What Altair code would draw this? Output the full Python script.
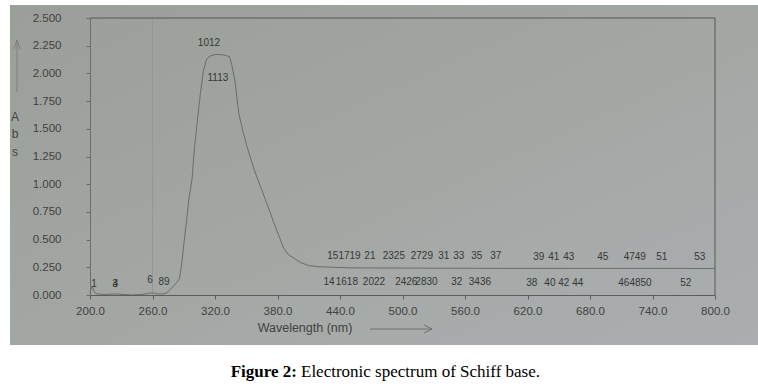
import altair as alt
import pandas as pd

# Spectrum trace (wavelength nm, absorbance)
wl = [200, 202, 204, 206, 215, 224, 240, 250, 256, 260, 265, 270, 274, 277, 280, 283, 286,
      288, 290, 293, 295, 298, 300, 303, 306, 309, 312, 316, 320, 326, 331, 334, 336, 339,
      343, 347, 351, 358, 368, 377, 386, 390, 396, 403, 410, 420, 434, 450, 500, 600,
      700, 800]
absb = [0.02, 0.08, 0.03, 0.01, 0.005, 0.01, 0.0, 0.005, 0.015, 0.02, 0.01, 0.01, 0.02, 0.05,
        0.08, 0.11, 0.15, 0.28, 0.45, 0.70, 0.87, 1.05, 1.30, 1.57, 1.82, 2.03, 2.13, 2.16,
        2.17, 2.17, 2.16, 2.15, 2.08, 1.94, 1.63, 1.47, 1.33, 1.12, 0.87, 0.64, 0.42, 0.37,
        0.33, 0.29, 0.265, 0.255, 0.25, 0.245, 0.243, 0.24, 0.24, 0.24]

# Peak-pick labels
pk_text = ["1012", "1113", "1", "3", "4", "6", "89",
           "151719", "21", "2325", "2729", "31", "33", "35", "37", "39", "41", "43", "45",
           "4749", "51", "53",
           "14", "1618", "2022", "2426", "2830", "32", "3436", "38", "40", "42", "44", "46",
           "4850", "52"]
pk_x = [314.2, 322.8, 203.8, 224.0, 224.6, 257.6, 271.0,
        443.8, 468.7, 491.7, 518.6, 539.7, 554.1, 571.4, 589.6, 630.9, 645.3, 659.7, 692.3,
        723.0, 748.9, 785.4,
        429.4, 446.6, 472.6, 503.6, 523.0, 552.2, 574.3, 624.2, 641.5, 654.9, 668.3, 712.5,
        728.5, 772.0]
pk_y = [2.27, 1.96, 0.10, 0.10, 0.10, 0.136, 0.118,
        0.355, 0.355, 0.355, 0.355, 0.355, 0.355, 0.355, 0.355, 0.345, 0.345, 0.345, 0.345,
        0.345, 0.345, 0.345,
        0.12, 0.12, 0.12, 0.12, 0.12, 0.12, 0.12, 0.105, 0.105, 0.105, 0.105, 0.105, 0.105,
        0.105]

x_ticks = [200, 260, 320, 380, 440, 500, 560, 620, 680, 740, 800]
y_ticks = [0, 0.25, 0.5, 0.75, 1.0, 1.25, 1.5, 1.75, 2.0, 2.25, 2.5]

spec = pd.DataFrame({"wl": wl, "abs": absb})
peaks = pd.DataFrame({"t": pk_text, "wl": pk_x, "abs": pk_y})
one = pd.DataFrame({"d": [0]})
grid = pd.DataFrame({"wl": [260]})

W, H = 625, 277
xs = alt.Scale(domain=[200, 800], nice=False)
ys = alt.Scale(domain=[0, 2.5], nice=False)

bg = alt.Chart(one).mark_rect(
    color=alt.LinearGradient(
        gradient="linear", x1=0, y1=0, x2=1, y2=1,
        stops=[alt.GradientStop(color="#9b9f99", offset=0),
               alt.GradientStop(color="#a3a7a3", offset=0.5),
               alt.GradientStop(color="#aaaeb1", offset=1)])
).encode(x=alt.value(-80), x2=alt.value(668), y=alt.value(-13), y2=alt.value(327))

x_axis = alt.Axis(values=x_ticks, format=".1f", title=None, grid=False,
                  labelFontSize=11.5, labelColor="#3f423f", labelPadding=6,
                  labelOverlap=False, labelFlush=False,
                  tickColor="#5a5d5a", tickSize=4, domainColor="#5a5d5a",
                  labelFont="Liberation Sans", zindex=1)
y_axis = alt.Axis(values=y_ticks, format=".3f", title=None, grid=False,
                  labelFontSize=11.5, labelColor="#3f423f", labelPadding=25,
                  labelOverlap=False, labelFlush=False,
                  tickColor="#6a6d6a", tickSize=4, domainColor="#6a6d6a",
                  labelFont="Liberation Sans", zindex=1)

gline = alt.Chart(grid).mark_rule(color="#949893", strokeWidth=1).encode(
    x=alt.X("wl:Q", scale=xs, axis=x_axis))

line = alt.Chart(spec).mark_line(color="#6a6d6a", strokeWidth=1).encode(
    x=alt.X("wl:Q", scale=xs, axis=x_axis),
    y=alt.Y("abs:Q", scale=ys, axis=y_axis))

labels = alt.Chart(peaks).mark_text(fontSize=10, color="#353835", font="Liberation Sans",
                                    baseline="middle").encode(
    x=alt.X("wl:Q", scale=xs, axis=x_axis), y=alt.Y("abs:Q", scale=ys, axis=y_axis),
    text="t:N")

def txt(s, x, y, size=12, color="#3f423f", font="Liberation Sans", weight="normal",
        align="center"):
    return alt.Chart(one).mark_text(text=s, fontSize=size, color=color, font=font,
                                    fontWeight=weight, align=align,
                                    baseline="middle").encode(
        x=alt.value(x), y=alt.value(y))

def seg(x1, y1, x2, y2, color="#6f726f"):
    return alt.Chart(one).mark_rule(color=color, strokeWidth=1).encode(
        x=alt.value(x1), y=alt.value(y1), x2=alt.value(x2), y2=alt.value(y2))

deco = [
    seg(0, 0, W, 0, "#555855"), seg(W, 0, W, H, "#555855"),
    txt("Wavelength (nm)", 215, 310, size=12.5),
    seg(280, 311, 342, 311), seg(334, 307, 342, 311), seg(334, 315, 342, 311),
    seg(-73, 74, -73, 22, "#7d807c"), seg(-76, 31, -73, 22, "#7d807c"),
    seg(-70, 31, -73, 22, "#7d807c"),
    txt("A", -75, 99), txt("b", -75, 116), txt("s", -75, 134),
    txt("Figure 2:", 207, 354, size=17, color="#000000", font="Liberation Serif",
        weight="bold", align="right"),
    txt("Electronic spectrum of Schiff base.", 211, 354, size=17, color="#000000",
        font="Liberation Serif", align="left"),
]

chart = alt.layer(bg, gline, line, labels, *deco).properties(
    width=W, height=H,
    autosize=alt.AutoSizeParams(type="none"),
    padding={"left": 90, "top": 18, "right": 43, "bottom": 97},
    background="white",
).configure_view(stroke=None)

chart.save("out.html", embed_options={"renderer": "svg", "actions": False})
